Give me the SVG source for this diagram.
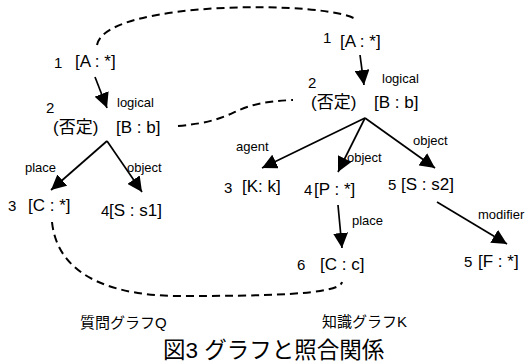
<svg xmlns="http://www.w3.org/2000/svg" width="527" height="362" viewBox="0 0 527 362">
<style>
text{font-family:"Liberation Sans","Noto Sans CJK JP",sans-serif;fill:#000}
.n{font-size:17px}
.num{font-size:15px}
.lb{font-size:13px}
.cap{font-size:15px}
.title{font-size:22.5px}
.e{stroke:#000;stroke-width:1.7;fill:none;marker-end:url(#ah)}
.d{stroke:#000;stroke-width:2;fill:none;stroke-dasharray:8 5}
</style>
<defs>
<marker id="ah" viewBox="0 0 14 14" markerWidth="15" markerHeight="15" markerUnits="userSpaceOnUse" refX="14" refY="7" orient="auto">
<path d="M0,0 L14,7 L0,14 z" fill="#000"/>
</marker>
</defs>
<g id="connectors">
<line class="e" x1="95" y1="77" x2="107" y2="108"/>
<line class="e" x1="107" y1="141" x2="51" y2="190"/>
<line class="e" x1="107" y1="141" x2="142" y2="192"/>
<line class="e" x1="360" y1="55" x2="364" y2="85"/>
<line class="e" x1="365" y1="118" x2="262" y2="168"/>
<line class="e" x1="365" y1="118" x2="338" y2="172"/>
<line class="e" x1="365" y1="118" x2="435" y2="168"/>
<line class="e" x1="338" y1="205" x2="342" y2="248"/>
<line class="e" x1="437" y1="202" x2="507" y2="244"/>
<path class="d" d="M97,45 C105,0 330,0 357,20"/>
<path class="d" d="M178,126 C245,120 225,103 293,100"/>
<path class="d" d="M52,222 C58,280 120,296 180,296 C260,296 340,295 342,282"/>
<text class="lb" x="117" y="107">logical</text>
<text class="lb" x="25" y="172">place</text>
<text class="lb" x="127" y="172">object</text>
<text class="lb" x="382" y="83">logical</text>
<text class="lb" x="236" y="151">agent</text>
<text class="lb" x="347" y="162">object</text>
<text class="lb" x="413" y="145">object</text>
<text class="lb" x="352" y="225">place</text>
<text class="lb" x="478" y="219">modifier</text>
</g>
<g id="qA"><text class="num" x="54" y="68">1</text><text class="n" x="75" y="67">[A : *]</text></g>
<g id="qB"><text class="num" x="46" y="113">2</text><text class="n" x="53" y="133">(否定)</text><text class="n" x="116" y="133">[B : b]</text></g>
<g id="qC"><text class="num" x="8" y="211">3</text><text class="n" x="28" y="211">[C : *]</text></g>
<g id="qS"><text class="num" x="101" y="216">4</text><text class="n" x="109" y="216">[S : s1]</text></g>
<g id="kA"><text class="num" x="323" y="43">1</text><text class="n" x="340" y="47">[A : *]</text></g>
<g id="kB"><text class="num" x="308" y="88">2</text><text class="n" x="311" y="108">(否定)</text><text class="n" x="374" y="108">[B : b]</text></g>
<g id="kK"><text class="num" x="224" y="193">3</text><text class="n" x="242" y="192">[K: k]</text></g>
<g id="kP"><text class="num" x="304" y="195">4</text><text class="n" x="314" y="195">[P : *]</text></g>
<g id="kS"><text class="num" x="388" y="190">5</text><text class="n" x="401" y="190">[S : s2]</text></g>
<g id="kC"><text class="num" x="297" y="270">6</text><text class="n" x="320" y="270">[C : c]</text></g>
<g id="kF"><text class="num" x="464" y="267">5</text><text class="n" x="478" y="267">[F : *]</text></g>
<text class="cap" x="80" y="328">質問グラフQ</text>
<text class="cap" x="322" y="327">知識グラフK</text>
<text class="title" x="163" y="358">図3 グラフと照合関係</text>
</svg>
